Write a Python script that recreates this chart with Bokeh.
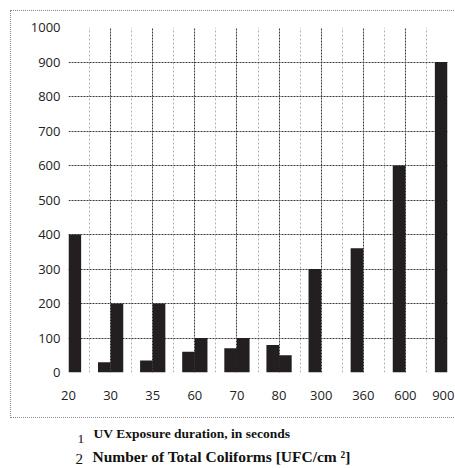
from bokeh.plotting import figure
from bokeh.models import Range1d, FixedTicker
from bokeh.layouts import column
from bokeh.core.properties import value
from bokeh.embed import file_html
from bokeh.resources import INLINE

# ---- data ----
categories = ["20", "30", "35", "60", "70", "80", "300", "360", "600", "900"]
uv_seconds = [20, 30, 35, 60, 70, 80, 300, 360, 600, 900]
coliforms = [400, 200, 200, 100, 100, 50, 0, 0, 0, 0]
y_ticks = [0, 100, 200, 300, 400, 500, 600, 700, 800, 900, 1000]
legend_numbers = ["1", "2"]
legend_texts = ["UV Exposure duration, in seconds", "Number of Total Coliforms [UFC/cm ²]"]

pos = list(range(len(categories)))
bar_w = 0.3

chart = figure(width=444, height=408, output_backend="svg", toolbar_location=None,
               x_range=Range1d(0, len(categories) - 1), y_range=Range1d(0, 1000),
               min_border_left=57, min_border_right=8, min_border_top=16, min_border_bottom=47,
               margin=(10, 0, 0, 10),
               styles={"border-left": "1px dotted #8a8a8a",
                       "border-top": "1px dotted #8a8a8a",
                       "border-bottom": "1px dotted #8a8a8a"})
chart.outline_line_color = None

bar_color = "#231f20"
chart.vbar(x=[i - bar_w / 2 for i in pos], top=uv_seconds, width=bar_w,
           fill_color=bar_color, line_color=None)
chart.vbar(x=[i + bar_w / 2 for i in pos], top=coliforms, width=bar_w,
           fill_color=bar_color, line_color=None)

# axes
chart.xaxis.ticker = FixedTicker(ticks=pos, minor_ticks=[i + 0.5 for i in pos[:-1]])
chart.xaxis.major_label_overrides = {i: c for i, c in zip(pos, categories)}
chart.yaxis.ticker = FixedTicker(ticks=y_ticks)
for ax in (chart.xaxis, chart.yaxis):
    ax.axis_line_color = None
    ax.major_tick_line_color = None
    ax.minor_tick_line_color = None
    ax.major_tick_out = 0
    ax.minor_tick_out = 0
    ax.major_label_text_font = "Open Sans"
    ax.major_label_text_font_size = "13px"
    ax.major_label_text_color = "#222222"
chart.xaxis.major_label_standoff = 18
chart.yaxis.major_label_standoff = 8

# grids
chart.xgrid.grid_line_color = "#3a3a3a"
chart.xgrid.grid_line_dash = "2 1"
chart.xgrid.minor_grid_line_color = "#b0b0b0"
chart.xgrid.minor_grid_line_dash = "2 2"
chart.ygrid.grid_line_color = "#3a3a3a"
chart.ygrid.grid_line_dash = "2 1"

# ---- legend strip below the chart (x in page pixels, y in pixels from strip top) ----
# (the column aligns frame borders, so use the same left/right borders as the chart)
leg = figure(width=455, height=48, output_backend="svg", toolbar_location=None,
             x_range=Range1d(57, 447), y_range=Range1d(48, 0),
             x_axis_type=None, y_axis_type=None,
             min_border_left=57, min_border_right=8, min_border_top=0, min_border_bottom=0)
leg.outline_line_color = None
leg.xgrid.visible = False
leg.ygrid.visible = False
serif = value("Liberation Serif")
leg.text(x=[77], y=[20], text=[legend_numbers[0]], text_font=serif,
         text_font_size="13.5px", text_color="#111111", text_baseline="alphabetic")
leg.text(x=[75], y=[40], text=[legend_numbers[1]], text_font=serif,
         text_font_size="15px", text_color="#111111", text_baseline="alphabetic")
leg.text(x=[93], y=[15], text=[legend_texts[0]], text_font=serif,
         text_font_size="13.5px", text_font_style="bold", text_color="#111111",
         text_baseline="alphabetic")
leg.text(x=[92], y=[38], text=[legend_texts[1]], text_font=serif,
         text_font_size="15.5px", text_font_style="bold", text_color="#111111",
         text_baseline="alphabetic")

layout = column(chart, leg, spacing=0)
open("out.html", "w").write(file_html(layout, INLINE))
